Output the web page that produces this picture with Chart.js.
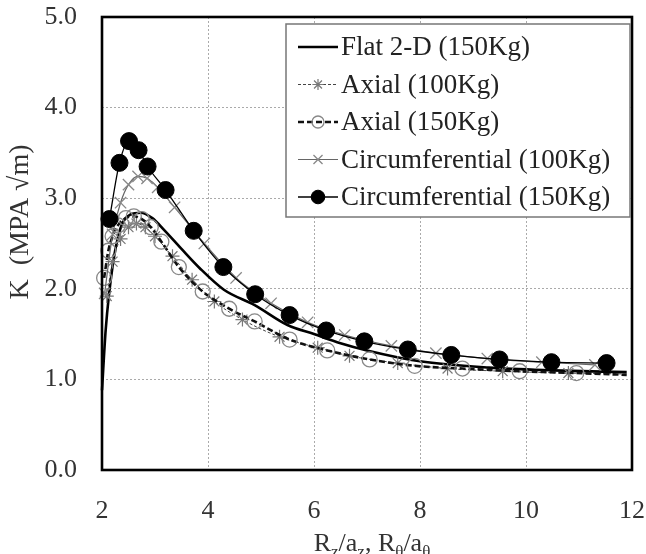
<!DOCTYPE html>
<html>
<head>
<meta charset="utf-8">
<script src="https://cdn.jsdelivr.net/npm/chart.js@4.4.1/dist/chart.umd.min.js"></script>
<style>
  html, body { margin: 0; padding: 0; background: #fff; }
  #wrap { width: 646px; height: 554px; position: relative; }
</style>
</head>
<body>
<div id="wrap"><canvas id="chartCanvas"></canvas></div>
<script>
// data
const seriesNames = [
  "Flat 2-D (150Kg)",
  "Axial (100Kg)",
  "Axial (150Kg)",
  "Circumferential (100Kg)",
  "Circumferential (150Kg)"
];

const flatX = [2.0, 2.07, 2.2, 2.35, 2.54, 2.73, 2.95, 3.17, 3.5, 3.84, 4.3, 4.88, 5.5, 6.0, 6.5, 7.0, 8.0, 9.3, 10.5, 11.9];
const flatY = [0.88, 1.55, 2.25, 2.67, 2.82, 2.84, 2.78, 2.65, 2.44, 2.23, 1.99, 1.82, 1.6, 1.5, 1.4, 1.32, 1.2, 1.13, 1.1, 1.08];

const axial100X = [2.09, 2.2, 2.35, 2.5, 2.65, 2.82, 3.0, 3.33, 3.7, 4.12, 4.65, 5.35, 6.07, 6.67, 7.58, 8.52, 9.56, 10.8, 11.9];
const axial100Y = [1.92, 2.3, 2.55, 2.68, 2.72, 2.68, 2.58, 2.36, 2.1, 1.86, 1.66, 1.47, 1.35, 1.26, 1.18, 1.12, 1.09, 1.07, 1.06];

const axial150X = [2.04, 2.12, 2.2, 2.3, 2.45, 2.6, 2.75, 2.92, 3.12, 3.45, 3.9, 4.4, 4.88, 5.54, 6.25, 7.05, 7.9, 8.8, 9.88, 10.95, 11.9];
const axial150Y = [2.12, 2.42, 2.58, 2.7, 2.78, 2.8, 2.77, 2.68, 2.52, 2.24, 1.97, 1.78, 1.64, 1.44, 1.32, 1.22, 1.15, 1.12, 1.09, 1.07, 1.05];

const circ100X = [2.05, 2.2, 2.35, 2.5, 2.68, 2.85, 3.05, 3.37, 3.93, 4.53, 5.19, 5.88, 6.58, 7.46, 8.3, 9.27, 10.3, 11.3];
const circ100Y = [1.95, 2.6, 2.95, 3.15, 3.24, 3.22, 3.12, 2.9, 2.5, 2.12, 1.84, 1.63, 1.49, 1.37, 1.29, 1.23, 1.19, 1.16];

const circ150X = [2.14, 2.33, 2.51, 2.69, 2.86, 3.2, 3.73, 4.29, 4.89, 5.54, 6.23, 6.95, 7.77, 8.59, 9.5, 10.48, 11.52];
const circ150Y = [2.77, 3.39, 3.63, 3.53, 3.35, 3.09, 2.64, 2.24, 1.94, 1.71, 1.54, 1.42, 1.33, 1.27, 1.22, 1.19, 1.18];

const xTicks = [2, 4, 6, 8, 10, 12];
const yTicks = [0, 1, 2, 3, 4, 5];

const SERIF = "'Liberation Serif', 'DejaVu Serif', serif";

function pts(xs, ys) {
  return xs.map((x, i) => ({ x: x, y: ys[i] }));
}
function noLastMarker(r, n) {
  return ctx => ctx.dataIndex === n - 1 ? 0 : r;
}

// style per series, used by datasets and by the legend
const styles = [
  { color: "#000", width: 2.6, dash: [], marker: false },
  { color: "#444", width: 1, dash: [3, 2], marker: "star", mColor: "#777", mSize: 7, mWidth: 1.2 },
  { color: "#111", width: 2.6, dash: [6, 3], marker: "circle", mColor: "#888", mSize: 7.5, mWidth: 1.3, mFill: "rgba(0,0,0,0)" },
  { color: "#666", width: 1.2, dash: [], marker: "crossRot", mColor: "#888", mSize: 8, mWidth: 1.3 },
  { color: "#000", width: 1.3, dash: [], marker: "circle", mColor: "#000", mSize: 8.5, mWidth: 1, mFill: "#000" }
];

const seriesData = [
  pts(flatX, flatY),
  pts(axial100X, axial100Y),
  pts(axial150X, axial150Y),
  pts(circ100X, circ100Y),
  pts(circ150X, circ150Y)
];

const datasets = seriesData.map((d, i) => {
  const s = styles[i];
  return {
    label: seriesNames[i],
    data: d,
    borderColor: s.color,
    borderWidth: s.width,
    borderDash: s.dash,
    pointStyle: s.marker || "circle",
    pointRadius: s.marker ? (i === 1 || i === 2 ? noLastMarker(s.mSize, d.length) : s.mSize) : 0,
    pointBorderColor: s.mColor,
    pointBorderWidth: s.mWidth,
    pointBackgroundColor: s.mFill || "rgba(0,0,0,0)",
    cubicInterpolationMode: "monotone",
    clip: false,
    order: 5 - i
  };
});

// frame, axis titles and legend drawn on top
const extras = {
  id: "extras",
  afterDraw(chart) {
    const c = chart.ctx;
    const a = chart.chartArea;
    c.save();
    // frame
    c.strokeStyle = "#000";
    c.lineWidth = 2.6;
    c.setLineDash([]);
    c.strokeRect(a.left, a.top, a.right - a.left, a.bottom - a.top);

    // y title
    c.fillStyle = "#333";
    c.font = "28px " + SERIF;
    c.save();
    c.translate(21, 222);
    c.rotate(-Math.PI / 2);
    c.textAlign = "center";
    c.textBaseline = "middle";
    c.fillText("K  (MPA \u221Am)", 0, 0);
    c.restore();

    // x title with subscripts
    const parts = [["R", 0], ["z", 1], ["/a", 0], ["z", 1], [", R", 0], ["\u03B8", 1], ["/a", 0], ["\u03B8", 1]];
    const big = "26px " + SERIF, small = "17px " + SERIF;
    let total = 0;
    parts.forEach(p => { c.font = p[1] ? small : big; total += c.measureText(p[0]).width; });
    let x = 372 - total / 2;
    const base = 551;
    c.textAlign = "left";
    c.textBaseline = "alphabetic";
    parts.forEach(p => {
      c.font = p[1] ? small : big;
      c.fillText(p[0], x, base + (p[1] ? 6 : 0));
      x += c.measureText(p[0]).width;
    });

    // legend
    const bx = 286, by = 24, bw = 344, bh = 193;
    c.fillStyle = "#fff";
    c.fillRect(bx, by, bw, bh);
    c.strokeStyle = "#777";
    c.lineWidth = 1.5;
    c.strokeRect(bx, by, bw, bh);
    c.font = "27px " + SERIF;
    c.textBaseline = "middle";
    seriesNames.forEach((name, i) => {
      const s = styles[i];
      const cy = 47 + i * 37.5;
      c.strokeStyle = s.color;
      c.lineWidth = s.width;
      c.setLineDash(s.dash);
      c.beginPath();
      c.moveTo(298, cy);
      c.lineTo(338, cy);
      c.stroke();
      c.setLineDash([]);
      if (s.marker) {
        c.strokeStyle = s.mColor;
        c.fillStyle = s.mFill || "rgba(0,0,0,0)";
        c.lineWidth = s.mWidth;
        Chart.helpers.drawPoint(c, { pointStyle: s.marker, radius: s.mSize * 0.8, borderWidth: s.mWidth }, 318, cy);
      }
      c.fillStyle = "#222";
      c.fillText(name, 341, cy + 1);
    });
    c.restore();
  }
};

function noPad(s) {
  s.paddingTop = 0;
  s.paddingBottom = 0;
  s.paddingLeft = 0;
  s.paddingRight = 0;
}

const ctx = document.getElementById("chartCanvas").getContext("2d");

new Chart(ctx, {
  type: "line",
  data: { datasets: datasets },
  options: {
    responsive: true,
    maintainAspectRatio: false,
    animation: false,
    layout: { padding: { left: 0, top: 17, right: 14, bottom: 0 } },
    plugins: {
      legend: { display: false },
      tooltip: { enabled: false }
    },
    scales: {
      x: {
        type: "linear",
        min: 2,
        max: 12,
        afterBuildTicks: s => { s.ticks = xTicks.map(v => ({ value: v })); },
        afterFit: s => { s.height = 84; noPad(s); },
        ticks: { font: { family: SERIF, size: 26 }, color: "#333", padding: 26 },
        grid: { color: "#aaa", lineWidth: 1, drawTicks: false },
        border: { display: false, dash: [2, 2] }
      },
      y: {
        min: 0,
        max: 5,
        afterBuildTicks: s => { s.ticks = yTicks.map(v => ({ value: v })); },
        afterFit: s => { s.width = 102; noPad(s); },
        ticks: { font: { family: SERIF, size: 26 }, color: "#333", padding: 25, callback: v => v.toFixed(1) },
        grid: { color: "#aaa", lineWidth: 1, drawTicks: false },
        border: { display: false, dash: [2, 2] }
      }
    }
  },
  plugins: [extras]
});
</script>
</body>
</html>
